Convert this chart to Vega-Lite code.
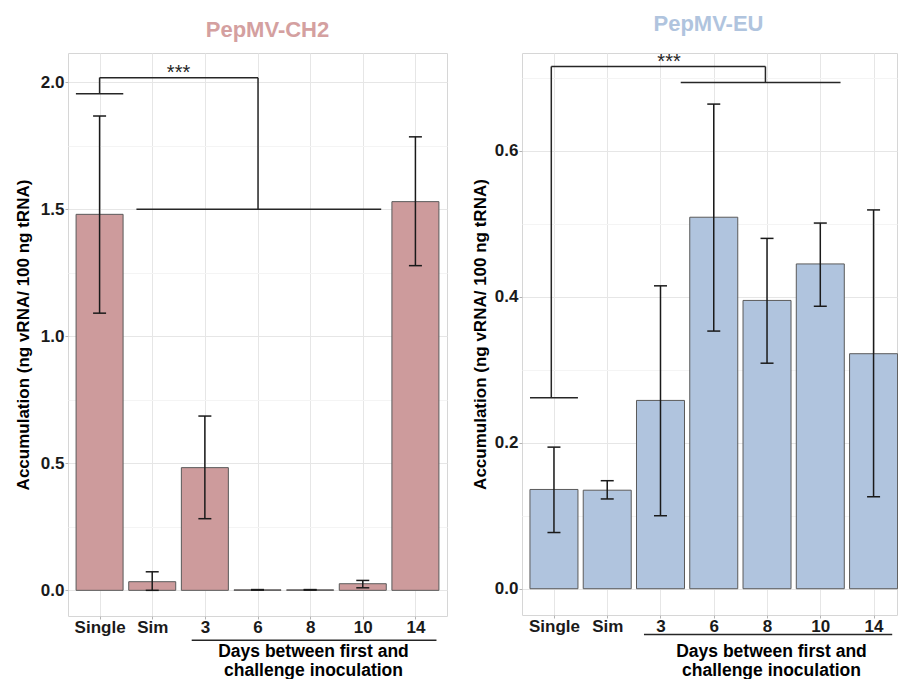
{
  "$schema": "https://vega.github.io/schema/vega-lite/v6.json",
  "background": "white",
  "padding": {"left": 13, "top": 12, "right": 0, "bottom": 0},
  "spacing": 22,
  "datasets": {
    "ch2": [
      {"grp": "Single", "pos": 1, "mean": 1.480, "lo": 1.091, "hi": 1.867},
      {"grp": "Sim", "pos": 2, "mean": 0.034, "lo": 0.0, "hi": 0.073},
      {"grp": "3", "pos": 3, "mean": 0.483, "lo": 0.282, "hi": 0.686},
      {"grp": "6", "pos": 4, "mean": 0.002, "lo": 0.001, "hi": 0.003},
      {"grp": "8", "pos": 5, "mean": 0.002, "lo": 0.001, "hi": 0.003},
      {"grp": "10", "pos": 6, "mean": 0.026, "lo": 0.010, "hi": 0.039},
      {"grp": "14", "pos": 7, "mean": 1.530, "lo": 1.278, "hi": 1.785}
    ],
    "eu": [
      {"grp": "Single", "pos": 1, "mean": 0.136, "lo": 0.077, "hi": 0.194},
      {"grp": "Sim", "pos": 2, "mean": 0.135, "lo": 0.123, "hi": 0.148},
      {"grp": "3", "pos": 3, "mean": 0.258, "lo": 0.100, "hi": 0.415},
      {"grp": "6", "pos": 4, "mean": 0.509, "lo": 0.353, "hi": 0.664},
      {"grp": "8", "pos": 5, "mean": 0.395, "lo": 0.309, "hi": 0.480},
      {"grp": "10", "pos": 6, "mean": 0.445, "lo": 0.387, "hi": 0.501},
      {"grp": "14", "pos": 7, "mean": 0.322, "lo": 0.126, "hi": 0.519}
    ],
    "ch2seg": [
      {"a": 0.55, "b": 1.45, "v": 1.955, "w": 1.955},
      {"a": 1, "b": 1, "v": 1.955, "w": 2.018},
      {"a": 1, "b": 4.01, "v": 2.018, "w": 2.018},
      {"a": 4.01, "b": 4.01, "v": 2.018, "w": 1.5},
      {"a": 1.7, "b": 6.35, "v": 1.5, "w": 1.5},
      {"a": 2.75, "b": 7.4, "v": -0.196, "w": -0.196}
    ],
    "euseg": [
      {"a": 0.55, "b": 1.45, "v": 0.2615, "w": 0.2615},
      {"a": 0.95, "b": 0.95, "v": 0.2615, "w": 0.7155},
      {"a": 0.95, "b": 4.97, "v": 0.7155, "w": 0.7155},
      {"a": 4.97, "b": 4.97, "v": 0.7155, "w": 0.6936},
      {"a": 3.38, "b": 6.38, "v": 0.6936, "w": 0.6936},
      {"a": 2.69, "b": 7.35, "v": -0.0626, "w": -0.0626}
    ],
    "ch2sig": [{"x": 2.5, "y": 2.018, "t": "***"}],
    "eusig": [{"x": 3.16, "y": 0.7155, "t": "***"}]
  },
  "hconcat": [
    {
      "width": 379,
      "height": 563,
      "title": {"text": "PepMV-CH2", "color": "#d4a0a0", "fontSize": 22, "fontWeight": "bold", "font": "Liberation Sans", "dx": 10, "baseline": "alphabetic", "offset": -6},
      "layer": [
        {
          "data": {"name": "ch2"},
          "mark": {"type": "bar", "width": 47, "fill": "#cd9b9c", "stroke": "#5a5a5a", "strokeWidth": 1},
          "encoding": {
            "x": {"field": "pos", "type": "quantitative", "scale": {"domain": [0.4, 7.6], "nice": false, "zero": false, "padding": 0},
              "axis": {"values": [1, 2, 3, 4, 5, 6, 7], "labelExpr": "['','Single','Sim','3','6','8','10','14'][datum.value]",
                "title": ["Days between first and", "challenge inoculation"], "titleFontSize": 17.5, "titleLineHeight": 19,
                "titleX": 245, "titleY": 26, "titleAlign": "center", "titleBaseline": "top", "labelPadding": 0}},
            "y": {"field": "mean", "type": "quantitative", "scale": {"domain": [-0.101, 2.115], "nice": false, "padding": 0},
              "axis": {"values": [0, 0.25, 0.5, 0.75, 1, 1.25, 1.5, 1.75, 2],
                "labelExpr": "round(datum.value*4)%2===0 ? format(datum.value,'.1f') : ''",
                "gridColor": {"condition": {"test": "round(datum.value*4)%2!==0", "value": "#f4f4f4"}, "value": "#e6e6e6"},
                "tickOpacity": {"condition": {"test": "round(datum.value*4)%2!==0", "value": 0}, "value": 1},
                "title": "Accumulation (ng vRNA/ 100 ng tRNA)", "titlePadding": 8}}
          }
        },
        {
          "data": {"name": "ch2"},
          "mark": {"type": "rule", "color": "#1a1a1a", "strokeWidth": 1.5},
          "encoding": {
            "x": {"field": "pos", "type": "quantitative"},
            "y": {"field": "lo", "type": "quantitative"},
            "y2": {"field": "hi"}
          }
        },
        {
          "data": {"name": "ch2"},
          "mark": {"type": "tick", "orient": "horizontal", "color": "#1a1a1a", "size": 13, "thickness": 1.5, "opacity": 1},
          "encoding": {
            "x": {"field": "pos", "type": "quantitative"},
            "y": {"field": "lo", "type": "quantitative"}
          }
        },
        {
          "data": {"name": "ch2"},
          "mark": {"type": "tick", "orient": "horizontal", "color": "#1a1a1a", "size": 13, "thickness": 1.5, "opacity": 1},
          "encoding": {
            "x": {"field": "pos", "type": "quantitative"},
            "y": {"field": "hi", "type": "quantitative"}
          }
        },
        {
          "data": {"name": "ch2seg"},
          "mark": {"type": "rule", "color": "#262626", "strokeWidth": 1.5},
          "encoding": {
            "x": {"field": "a", "type": "quantitative"},
            "x2": {"field": "b"},
            "y": {"field": "v", "type": "quantitative"},
            "y2": {"field": "w"}
          }
        },
        {
          "data": {"name": "ch2sig"},
          "mark": {"type": "text", "fontSize": 20, "font": "Liberation Sans", "color": "#262626", "baseline": "alphabetic", "dy": 1},
          "encoding": {
            "x": {"field": "x", "type": "quantitative"},
            "y": {"field": "y", "type": "quantitative"},
            "text": {"field": "t"}
          }
        }
      ]
    },
    {
      "width": 375,
      "height": 562,
      "title": {"text": "PepMV-EU", "color": "#b0c4de", "fontSize": 22, "fontWeight": "bold", "font": "Liberation Sans", "dx": -1, "baseline": "alphabetic", "offset": -1},
      "layer": [
        {
          "data": {"name": "eu"},
          "mark": {"type": "bar", "width": 48, "fill": "#b0c4de", "stroke": "#5a5a5a", "strokeWidth": 1},
          "encoding": {
            "x": {"field": "pos", "type": "quantitative", "scale": {"domain": [0.4, 7.44], "nice": false, "zero": false, "padding": 0},
              "axis": {"values": [1, 2, 3, 4, 5, 6, 7], "labelExpr": "['','Single','Sim','3','6','8','10','14'][datum.value]",
                "title": ["Days between first and", "challenge inoculation"], "titleFontSize": 17.5, "titleLineHeight": 19,
                "titleX": 249, "titleY": 27, "titleAlign": "center", "titleBaseline": "top", "labelPadding": 0}},
            "y": {"field": "mean", "type": "quantitative", "scale": {"domain": [-0.036, 0.734], "nice": false, "padding": 0},
              "axis": {"values": [0, 0.1, 0.2, 0.3, 0.4, 0.5, 0.6, 0.7],
                "labelExpr": "round(datum.value*10)%2===0 ? format(datum.value,'.1f') : ''",
                "gridColor": {"condition": {"test": "round(datum.value*10)%2!==0", "value": "#f4f4f4"}, "value": "#e6e6e6"},
                "tickOpacity": {"condition": {"test": "round(datum.value*10)%2!==0", "value": 0}, "value": 1},
                "title": "Accumulation (ng vRNA/ 100 ng tRNA)", "titlePadding": 5}}
          }
        },
        {
          "data": {"name": "eu"},
          "mark": {"type": "rule", "color": "#1a1a1a", "strokeWidth": 1.5},
          "encoding": {
            "x": {"field": "pos", "type": "quantitative"},
            "y": {"field": "lo", "type": "quantitative"},
            "y2": {"field": "hi"}
          }
        },
        {
          "data": {"name": "eu"},
          "mark": {"type": "tick", "orient": "horizontal", "color": "#1a1a1a", "size": 13, "thickness": 1.5, "opacity": 1},
          "encoding": {
            "x": {"field": "pos", "type": "quantitative"},
            "y": {"field": "lo", "type": "quantitative"}
          }
        },
        {
          "data": {"name": "eu"},
          "mark": {"type": "tick", "orient": "horizontal", "color": "#1a1a1a", "size": 13, "thickness": 1.5, "opacity": 1},
          "encoding": {
            "x": {"field": "pos", "type": "quantitative"},
            "y": {"field": "hi", "type": "quantitative"}
          }
        },
        {
          "data": {"name": "euseg"},
          "mark": {"type": "rule", "color": "#262626", "strokeWidth": 1.5},
          "encoding": {
            "x": {"field": "a", "type": "quantitative"},
            "x2": {"field": "b"},
            "y": {"field": "v", "type": "quantitative"},
            "y2": {"field": "w"}
          }
        },
        {
          "data": {"name": "eusig"},
          "mark": {"type": "text", "fontSize": 20, "font": "Liberation Sans", "color": "#262626", "baseline": "alphabetic", "dy": 1},
          "encoding": {
            "x": {"field": "x", "type": "quantitative"},
            "y": {"field": "y", "type": "quantitative"},
            "text": {"field": "t"}
          }
        }
      ]
    }
  ],
  "config": {
    "font": "Liberation Sans",
    "view": {"stroke": "#d6d6d6", "strokeWidth": 1},
    "axis": {
      "labelFont": "Liberation Sans",
      "labelFontSize": 17,
      "labelFontWeight": "bold",
      "labelColor": "#1a1a1a",
      "titleFont": "Liberation Sans",
      "titleFontSize": 17,
      "titleFontWeight": "bold",
      "titleColor": "#000000",
      "gridColor": "#e6e6e6",
      "domain": false,
      "tickColor": "#b3b3b3",
      "tickSize": 3,
      "labelPadding": 1
    }
  }
}
